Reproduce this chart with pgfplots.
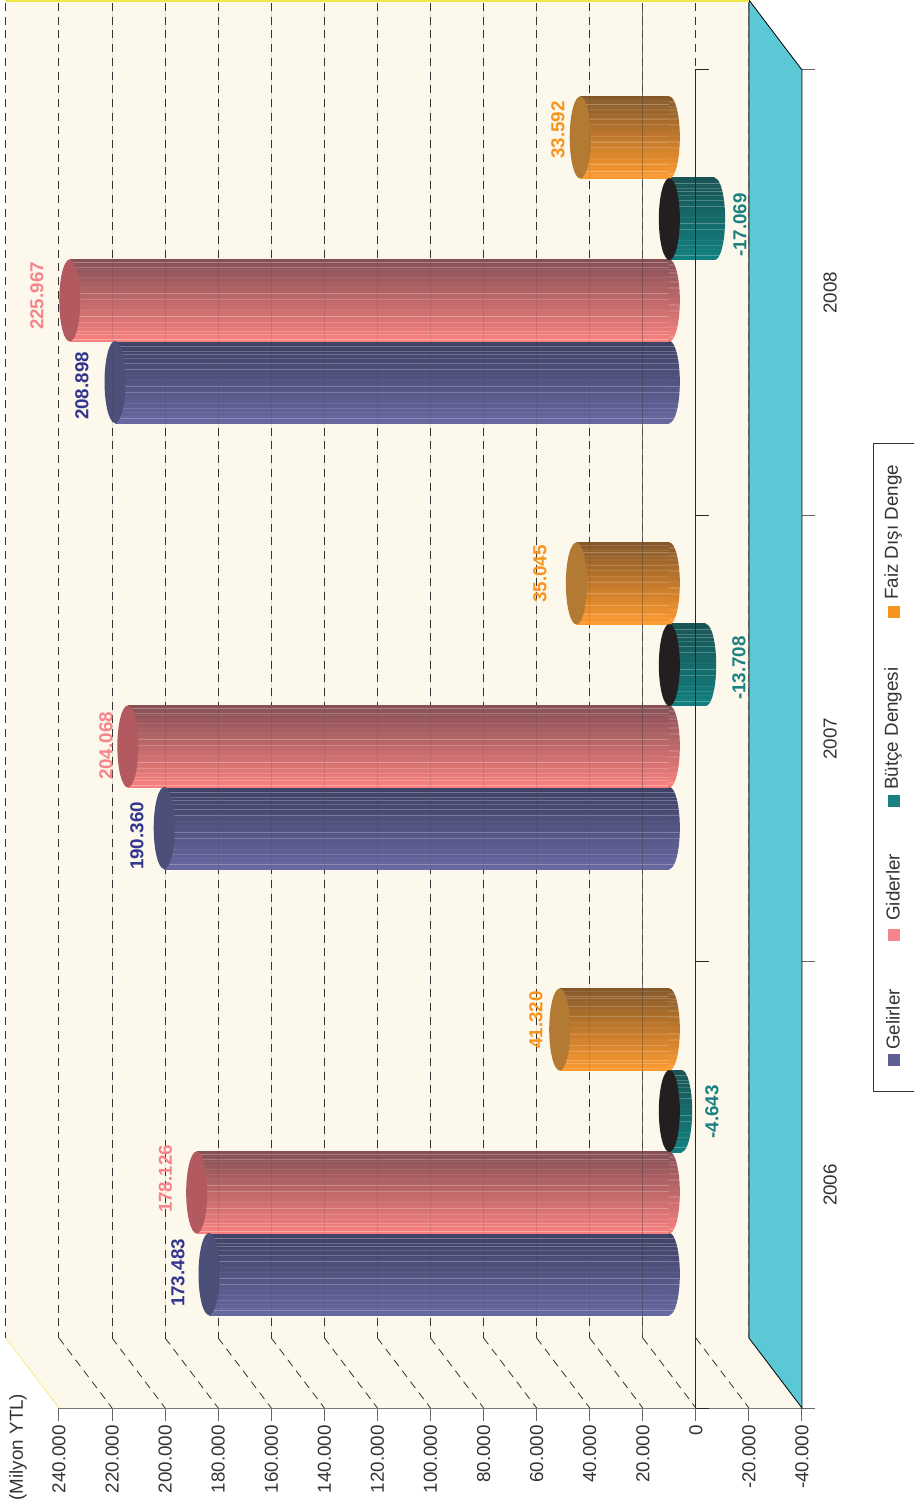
\documentclass[border=0pt]{standalone}
\usepackage{fontspec}
\setmainfont{Liberation Sans}
\usepackage{pgfplots}
\pgfplotsset{compat=1.18}

\definecolor{wall}{HTML}{FDF8EC}
\definecolor{floorc}{HTML}{5BC8D5}
\definecolor{edgeyellow}{HTML}{EDE84A}
\definecolor{txt}{HTML}{333333}
\definecolor{gridc}{HTML}{333333}
\definecolor{axisc}{HTML}{666666}
% series: text colour, cylinder dark and light side, cap
\definecolor{gelT}{HTML}{33368F}
\definecolor{gelL}{HTML}{5C6094}
\definecolor{gelA}{HTML}{3E4164}
\definecolor{gelB}{HTML}{6668A0}
\definecolor{gelC}{HTML}{4C5078}
\definecolor{gidT}{HTML}{F4858A}
\definecolor{gidA}{HTML}{855055}
\definecolor{gidB}{HTML}{F9817F}
\definecolor{gidC}{HTML}{B35A60}
\definecolor{butT}{HTML}{1A8080}
\definecolor{butA}{HTML}{1A5454}
\definecolor{butB}{HTML}{128080}
\definecolor{butC}{HTML}{231F20}
\definecolor{faiT}{HTML}{F7941D}
\definecolor{faiA}{HTML}{84582A}
\definecolor{faiB}{HTML}{FF9A2E}
\definecolor{faiC}{HTML}{B27A33}

% vertical shading with thin light facet lines
\newcommand{\cylshade}[3]{%
  \gdef\stops{color(0bp)=(#3);color(25bp)=(#3)}%
  \foreach \p in {26.5,28,29.5,31.5,34,37,40.5,44,47.5,51,54.5,58,61.5,64.5,67,69,70.5,72,73.5}{%
    \pgfmathsetmacro\a{\p-0.25}\pgfmathsetmacro\b{\p+0.25}%
    \pgfmathsetmacro\m{(75-\p)*2}%
    \xdef\stops{\stops;color(\a bp)=(#3!\m!#2);color(\p bp)=(#3!\m!#2!65!white);color(\b bp)=(#3!\m!#2)}%
  }%
  \xdef\stops{\stops;color(75bp)=(#2);color(100bp)=(#2)}%
  \edef\next{\noexpand\pgfdeclareverticalshading{#1}{100bp}{\stops}}\next}
\cylshade{gel}{gelA}{gelB}
\cylshade{gid}{gidA}{gidB}
\cylshade{but}{butA}{butB}
\cylshade{fai}{faiA}{faiB}

\pgfdeclareplotmark{capflat}{\pgfpathellipse{\pgfpointorigin}{\pgfqpoint{10.5pt}{0pt}}{\pgfqpoint{0pt}{41pt}}\pgfusepathqfill}
% right half of the ellipse only, so it does not lie over the body of the bar
\newcommand{\shadecap}[1]{%
  \pgfpathmoveto{\pgfqpoint{-0.4pt}{41pt}}%
  \pgfpathlineto{\pgfqpoint{0pt}{41pt}}%
  \pgfpathcurveto{\pgfqpoint{5.8pt}{41pt}}{\pgfqpoint{10.5pt}{22.6pt}}{\pgfqpoint{10.5pt}{0pt}}%
  \pgfpathcurveto{\pgfqpoint{10.5pt}{-22.6pt}}{\pgfqpoint{5.8pt}{-41pt}}{\pgfqpoint{0pt}{-41pt}}%
  \pgfpathlineto{\pgfqpoint{-0.4pt}{-41pt}}%
  \pgfpathclose
  \pgfshadepath{#1}{0}\pgfusepath{}}
\pgfdeclareplotmark{cap-gel}{\shadecap{gel}}
\pgfdeclareplotmark{cap-gid}{\shadecap{gid}}
\pgfdeclareplotmark{cap-but}{\shadecap{but}}
\pgfdeclareplotmark{cap-fai}{\shadecap{fai}}

% #1 series, #2 position along the year axis, #3 value
\newcommand{\cylpos}[3]{%
  \addplot[only marks,mark=cap-#1] coordinates {(0,#2)};
  \addplot[xbar,bar width=82pt,shade,shading=#1,draw=none] coordinates {(#3,#2)};
  \addplot[only marks,mark=capflat,mark options={draw=none,fill=#1C}] coordinates {(#3,#2)};
}
\newcommand{\cylneg}[3]{%
  \addplot[xbar,bar width=82pt,shade,shading=#1,draw=none] coordinates {(#3,#2)};
  \addplot[only marks,mark=cap-#1] coordinates {(#3,#2)};
  \addplot[only marks,mark=capflat,mark options={draw=none,fill=#1C}] coordinates {(0,#2)};
}
\newcommand{\lab}[4]{\node[rotate=90,text=#1,font=\fontsize{18.8}{20}\selectfont\bfseries,inner sep=0pt] at ({(#2-59)*1pt},{(1408-#3)*1pt}) {#4};}
\newcommand{\legitem}[4]{%
  \fill[#1] ({(888-59)*1pt},{(1408-#2)*1pt}) rectangle ++(12pt,12pt);
  \node[rotate=90,anchor=west,text=txt,font=\fontsize{18.8}{20}\selectfont,inner sep=0pt] at ({(893-59)*1pt},{(1408-#3)*1pt}) {#4};}

\pgfplotsset{
  base/.style={
    anchor=south west,
    scale only axis,width=743pt,height=1338pt,
    clip=false,
    x dir=reverse,
    xmin=-40000,xmax=240000,ymin=0,ymax=3,
  },
}

\begin{document}
\begin{tikzpicture}
\useasboundingbox (-59pt,-101pt) rectangle (855pt,1408pt);
\begin{axis}[
    base,at={(0pt,0pt)},
    axis x line*=bottom,axis y line*=right,
    axis line style={axisc,line width=1pt},
    tick align=outside,major tick length=13pt,
    tick style={axisc,line width=1pt},
    xtick={-40000,-20000,...,240000},
    scaled x ticks=false,
    /pgf/number format/.cd,fixed,1000 sep={.},assume math mode=true,/pgfplots/.cd,
    ytick={0,1,2,3},yticklabels={},
    extra y ticks={0.5,1.5,2.5},
    extra y tick labels={2006,2007,2008},
    extra y tick style={major tick length=0pt,
      yticklabel style={rotate=90,anchor=north,yshift=-18pt}},
    tick label style={font=\fontsize{18.8}{20}\selectfont,text=txt},
    xticklabel style={rotate=90,anchor=east,inner sep=0pt,xshift=-4pt},
]
% wall, floor
\addplot[fill=wall,draw=none] coordinates {(-40000,0) (240000,0) (260000,0.157) (260000,3.157) (-20000,3.157) (-20000,0.157)} -- cycle;
\addplot[fill=floorc,draw=black,line width=0.8pt] coordinates {(-20000,3.157) (-40000,3) (-40000,0) (-20000,0.157)} -- cycle;
\addplot[edgeyellow,line width=3.5pt] coordinates {(260000,3.157) (-20000,3.157)};
\addplot[edgeyellow,line width=0.5pt] coordinates {(260000,0.157) (240000,0)};
% grid on the wall and the side
\addplot[gridc,line width=1pt,dash pattern=on 8pt off 5.7pt,unbounded coords=jump] coordinates {
 (260000,3.15) (260000,0.157) (nan,nan)
 (240000,3.15) (240000,0.157) (nan,nan)
 (220000,3.15) (220000,0.157) (nan,nan)
 (200000,3.15) (200000,0.157) (nan,nan)
 (180000,3.15) (180000,0.157) (nan,nan)
 (160000,3.15) (160000,0.157) (nan,nan)
 (140000,3.15) (140000,0.157) (nan,nan)
 (120000,3.15) (120000,0.157) (nan,nan)
 (100000,3.15) (100000,0.157) (nan,nan)
 (80000,3.15) (80000,0.157) (nan,nan)
 (60000,3.15) (60000,0.157) (nan,nan)
 (40000,3.15) (40000,0.157) (nan,nan)
 (20000,3.15) (20000,0.157) (nan,nan)
 (0,3.15) (0,0.157) (nan,nan)
 (-20000,3.15) (-20000,0.157)};
\addplot[gridc,line width=0.8pt,dash pattern=on 8pt off 5.7pt,unbounded coords=jump] coordinates {
 (240000,0.157) (220000,0) (nan,nan)
 (220000,0.157) (200000,0) (nan,nan)
 (200000,0.157) (180000,0) (nan,nan)
 (180000,0.157) (160000,0) (nan,nan)
 (160000,0.157) (140000,0) (nan,nan)
 (140000,0.157) (120000,0) (nan,nan)
 (120000,0.157) (100000,0) (nan,nan)
 (100000,0.157) (80000,0) (nan,nan)
 (80000,0.157) (60000,0) (nan,nan)
 (60000,0.157) (40000,0) (nan,nan)
 (40000,0.157) (20000,0) (nan,nan)
 (20000,0.157) (0,0) (nan,nan)
 (0,0.157) (-20000,0)};
\addplot[axisc,line width=1pt,opacity=0.7] coordinates {(20000,3.15) (20000,0.157)};
\addplot[axisc,line width=1pt,opacity=0.7] coordinates {(-20000,3.15) (-20000,0.157)};
\end{axis}
% cylinders stand half way into the depth: same scale, moved 26.5pt
\begin{axis}[base,at={(-26.5pt,0pt)},hide axis]
\cylpos{gel}{0.3004}{173483}
\cylpos{gel}{1.3004}{190360}
\cylpos{gel}{2.3004}{208898}
\cylpos{gid}{0.4832}{178126}
\cylpos{gid}{1.4832}{204068}
\cylpos{gid}{2.4832}{225967}
\cylneg{but}{0.6659}{-4643}
\cylneg{but}{1.6659}{-13708}
\cylneg{but}{2.6659}{-17069}
\cylpos{fai}{0.8487}{41320}
\cylpos{fai}{1.8487}{35045}
\cylpos{fai}{2.8487}{33592}
\end{axis}
\begin{axis}[base,at={(0pt,0pt)},hide axis]
% lines seen through the cylinders
\addplot[gridc,line width=1pt,opacity=0.12,unbounded coords=jump] coordinates {
 (220000,3.15) (220000,0.157) (nan,nan)
 (200000,3.15) (200000,0.157) (nan,nan)
 (180000,3.15) (180000,0.157) (nan,nan)
 (160000,3.15) (160000,0.157) (nan,nan)
 (140000,3.15) (140000,0.157) (nan,nan)
 (120000,3.15) (120000,0.157) (nan,nan)
 (100000,3.15) (100000,0.157) (nan,nan)
 (80000,3.15) (80000,0.157) (nan,nan)
 (60000,3.15) (60000,0.157) (nan,nan)
 (40000,3.15) (40000,0.157)};
\addplot[gridc,line width=1pt,opacity=0.35] coordinates {(20000,3.15) (20000,0.157)};
% zero line with its ticks
\addplot[black!85,line width=1pt,unbounded coords=jump] coordinates {
 (0,0) (0,3) (-4900,3) (nan,nan)
 (0,2) (-4900,2) (nan,nan)
 (0,1) (-4900,1) (nan,nan)
 (0,0) (-4900,0)};
\end{axis}
\lab{gelT}{178}{1273}{173.483}
\lab{gidT}{165.5}{1179}{178.126}
\lab{butT}{712}{1112}{-4.643}
\lab{faiT}{536}{1020}{41.320}
\lab{gelT}{137}{836}{190.360}
\lab{gidT}{106}{746}{204.068}
\lab{butT}{739}{668}{-13.708}
\lab{faiT}{540}{574}{35.045}
\lab{gelT}{82}{386}{208.898}
\lab{gidT}{37}{296}{225.967}
\lab{butT}{740}{225}{-17.069}
\lab{faiT}{558}{130}{33.592}
\node[rotate=90,text=txt,font=\fontsize{18.8}{20}\selectfont,inner sep=0pt] at ({(18-59)*1pt},{(1408-1447)*1pt}) {(Milyon YTL)};
\draw[black!80,line width=0.8pt] (855pt,{(1408-443)*1pt}) -- ({(873-59)*1pt},{(1408-443)*1pt}) -- ({(873-59)*1pt},{(1408-1091)*1pt}) -- (855pt,{(1408-1091)*1pt});
\legitem{gelL}{1066}{1050}{Gelirler}
\legitem{gidT}{941}{921}{Giderler}
\legitem{butT}{807}{790}{Bütçe Dengesi}
\legitem{faiT}{618}{600}{Faiz Dışı Denge}
\end{tikzpicture}
\end{document}
